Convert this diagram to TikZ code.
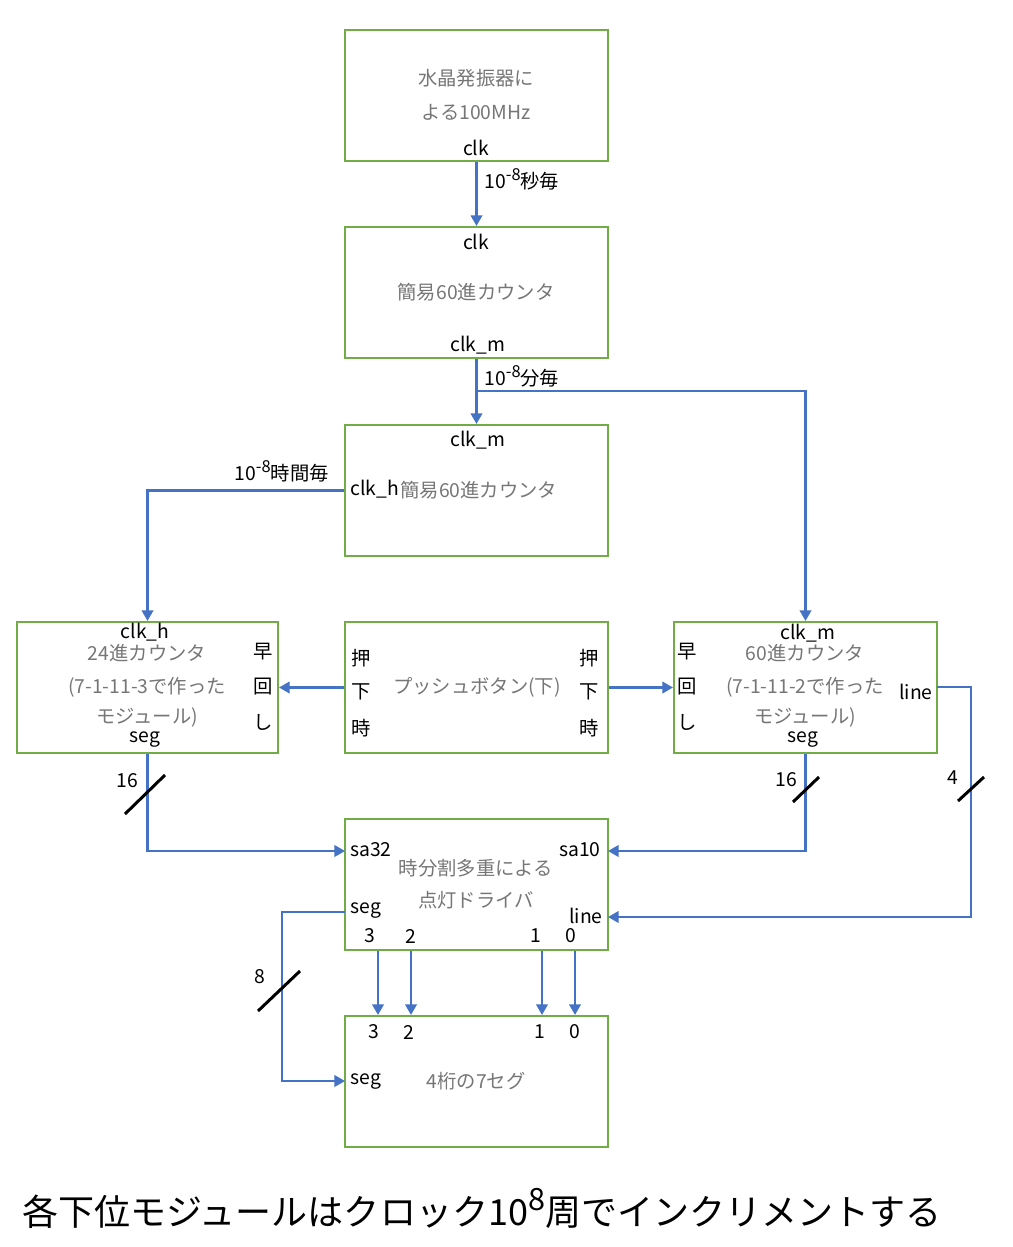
\documentclass[tikz,border=0pt]{standalone}
\usepackage{fontspec}
\setmainfont{Noto Sans CJK JP}
\usetikzlibrary{arrows.meta}
\definecolor{frame}{RGB}{112,173,71}
\definecolor{wire}{RGB}{68,114,196}
\definecolor{note}{RGB}{118,118,118}
\newcommand{\upexp}[1]{\raisebox{0.42em}{\scalebox{0.85}{#1}}}

\tikzset{
  blk/.style={draw=frame, line width=1.2pt, minimum width=5.26cm, minimum height=2.62cm, inner sep=0pt},
  sig/.style={draw=wire, line width=1.3pt, -{Triangle[length=6pt,width=6.5pt]}},
  bus/.style={line width=1.7pt, black},
  lbl/.style={inner sep=0pt, font=\fontsize{11}{13}\selectfont},
  gry/.style={lbl, text=note},
}

\begin{document}
\begin{tikzpicture}[x=0.02cm, y=-0.02cm]
  \useasboundingbox (0,0) rectangle (1012,1247);

  %Blocks
  \node[blk] (osc) at (476.5,95.5) {};
  \node[blk] (cnts) at (476.5,292.5) {};
  \node[blk] (cntm) at (476.5,490.5) {};
  \node[blk, minimum width=5.22cm] (cnth) at (147.5,687.5) {};
  \node[blk] (push) at (476.5,687.5) {};
  \node[blk] (cnt60) at (805.5,687.5) {};
  \node[blk] (drv) at (476.5,884.5) {};
  \node[blk] (seg7) at (476.5,1081.5) {};

  %Ports
  \coordinate (brm) at (476.5,391);
  \coordinate (in32) at (345,851);
  \coordinate (in10) at (608,851);
  \coordinate (outln) at (937,687);
  \coordinate (lnc) at (971,917);
  \coordinate (inln) at (608,917);
  \coordinate (sgo) at (345,912);
  \coordinate (sgc) at (282,912);
  \coordinate (sgi) at (345,1081);

  %Texts in blocks
  \node[gry] (o1) at (476,78) {水晶発振器に};
  \node[gry] (o2) at (476,112) {よる100MHz};
  \node[lbl] (o3) at (476,148) {clk};

  \node[lbl] (s1) at (476,242) {clk};
  \node[gry] (s2) at (476,292) {簡易60進カウンタ};
  \node[lbl] (s3) at (478,345) {clk\_m};

  \node[lbl] (m1) at (478,440) {clk\_m};
  \node[lbl, anchor=west] (m2) at (350,489) {clk\_h};
  \node[gry, anchor=west] (m3) at (400,490) {簡易60進カウンタ};

  \node[lbl] (h1) at (145,632) {clk\_h};
  \node[gry] (h2) at (147,653) {24進カウンタ};
  \node[gry] (h3) at (147,687) {(7-1-11-3で作った};
  \node[gry] (h4) at (147,717) {モジュール)};
  \node[lbl] (h5) at (145,740) {seg};
  \node[lbl] (h6) at (263,652) {早};
  \node[lbl] (h7) at (263,687) {回};
  \node[lbl] (h8) at (263,722) {し};

  \node[lbl] (p1) at (361,658) {押};
  \node[lbl] (p2) at (361,692) {下};
  \node[lbl] (p3) at (361,728) {時};
  \node[lbl] (p4) at (589,658) {押};
  \node[lbl] (p5) at (589,692) {下};
  \node[lbl] (p6) at (589,728) {時};
  \node[gry] (p7) at (477,687) {プッシュボタン(下)};

  \node[lbl] (r1) at (808,633) {clk\_m};
  \node[gry] (r2) at (805,653) {60進カウンタ};
  \node[gry] (r3) at (805,687) {(7-1-11-2で作った};
  \node[gry] (r4) at (805,717) {モジュール)};
  \node[lbl] (r5) at (803,740) {seg};
  \node[lbl] (r6) at (687,652) {早};
  \node[lbl] (r7) at (687,687) {回};
  \node[lbl] (r8) at (687,722) {し};
  \node[lbl] (r9) at (916,692) {line};

  \node[lbl] (d1) at (371,850) {sa32};
  \node[lbl] (d2) at (580,850) {sa10};
  \node[gry] (d3) at (476,868) {時分割多重による};
  \node[gry] (d4) at (476,900) {点灯ドライバ};
  \node[lbl] (d5) at (366,911) {seg};
  \node[lbl] (d6) at (586,916) {line};
  \node[lbl] (d7) at (370,936) {3};
  \node[lbl] (d8) at (411,936) {2};
  \node[lbl] (d9) at (536,936) {1};
  \node[lbl] (d10) at (571,936) {0};

  \node[lbl] (g1) at (374,1032) {3};
  \node[lbl] (g2) at (409,1032) {2};
  \node[lbl] (g3) at (540,1032) {1};
  \node[lbl] (g4) at (575,1032) {0};
  \node[lbl] (g5) at (366,1082) {seg};
  \node[gry] (g6) at (476,1081) {4桁の7セグ};

  %Connectors
  \draw[sig] (osc) -- (cnts);
  \draw[sig] (cnts) -- (cntm);
  \draw[sig] (brm) -| (cnt60.north);
  \draw[sig] (cntm.west) -| (cnth.north);
  \draw[sig] (push) -- (cnth);
  \draw[sig] (push) -- (cnt60);
  \draw[sig] (cnth.south) |- (in32);
  \draw[sig] (cnt60.south) |- (in10);
  \draw[sig] (outln) -| (lnc) -- (inln);
  \draw[sig] (sgo) -- (sgc) |- (sgi);
  \foreach \x in {378,411,542,575}
    \draw[sig] (drv.south -| \x,0) -- (seg7.north -| \x,0);

  %Wire notes
  \node[lbl, anchor=west] (ns) at (484,179) {10\upexp{-8}秒毎};
  \node[lbl, anchor=west] (nm) at (484,376) {10\upexp{-8}分毎};
  \node[lbl, anchor=east] (nh) at (329,471) {10\upexp{-8}時間毎};

  %Bus widths
  \draw[bus] (125,814) -- (165,775);
  \node[lbl] (w1) at (127,781) {16};
  \draw[bus] (793,802) -- (819,777);
  \node[lbl] (w2) at (786,780) {16};
  \draw[bus] (958,801) -- (984,777);
  \node[lbl] (w3) at (953,778) {4};
  \draw[bus] (258,1011) -- (300,971);
  \node[lbl] (w4) at (260,977) {8};

  %Caption
  \node[inner sep=0pt, font=\fontsize{20.5}{25}\selectfont, anchor=west] (cap) at (22,1208)
    {各下位モジュールはクロック10\upexp{8}周でインクリメントする};
\end{tikzpicture}
\end{document}
